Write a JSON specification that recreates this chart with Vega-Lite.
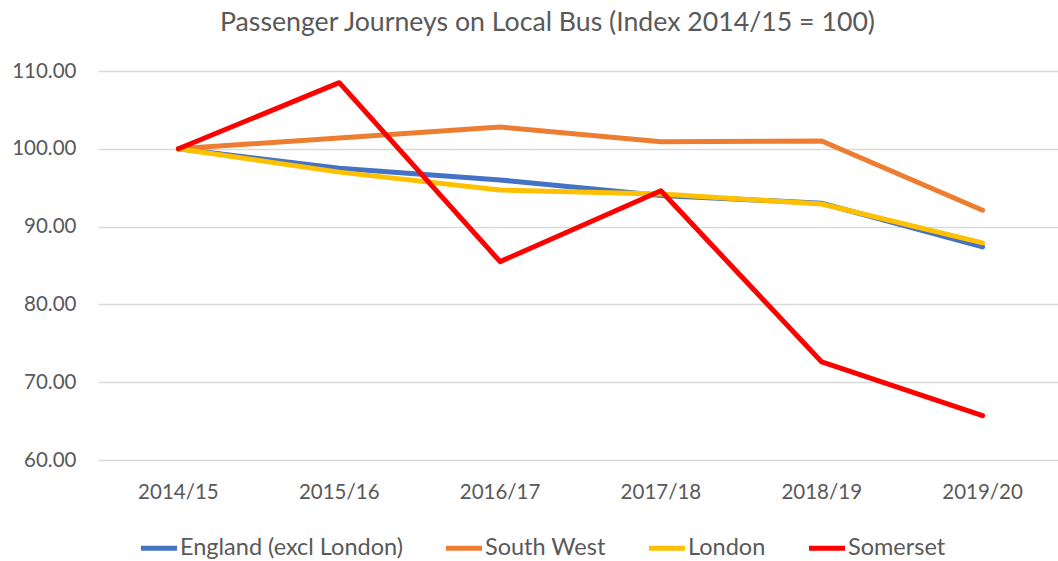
{
  "$schema": "https://vega.github.io/schema/vega-lite/v6.json",
  "autosize": "none",
  "width": 965,
  "height": 389,
  "padding": {"left": 98, "top": 71, "right": 0, "bottom": 101},
  "background": "white",
  "config": {
    "view": {"stroke": null},
    "font": "Lato",
    "axis": {"labelColor": "#595959", "labelFont": "Lato", "labelFontSize": 20.5},
    "legend": {"labelColor": "#595959", "labelFont": "Lato", "labelFontSize": 23.5}
  },
  "title": {
    "text": "Passenger Journeys on Local Bus (Index 2014/15 = 100)",
    "font": "Lato",
    "fontSize": 26.7,
    "fontWeight": "normal",
    "color": "#595959",
    "anchor": "middle",
    "dx": -33,
    "offset": 24
  },
  "data": {
    "values": [
      {"year": "2014/15", "series": "England (excl London)", "value": 100.0},
      {"year": "2015/16", "series": "England (excl London)", "value": 97.5},
      {"year": "2016/17", "series": "England (excl London)", "value": 96.0},
      {"year": "2017/18", "series": "England (excl London)", "value": 94.0},
      {"year": "2018/19", "series": "England (excl London)", "value": 93.0},
      {"year": "2019/20", "series": "England (excl London)", "value": 87.4},
      {"year": "2014/15", "series": "South West", "value": 100.0},
      {"year": "2015/16", "series": "South West", "value": 101.4},
      {"year": "2016/17", "series": "South West", "value": 102.8},
      {"year": "2017/18", "series": "South West", "value": 100.9},
      {"year": "2018/19", "series": "South West", "value": 101.0},
      {"year": "2019/20", "series": "South West", "value": 92.1},
      {"year": "2014/15", "series": "London", "value": 100.0},
      {"year": "2015/16", "series": "London", "value": 97.0},
      {"year": "2016/17", "series": "London", "value": 94.7},
      {"year": "2017/18", "series": "London", "value": 94.2},
      {"year": "2018/19", "series": "London", "value": 92.9},
      {"year": "2019/20", "series": "London", "value": 87.9},
      {"year": "2014/15", "series": "Somerset", "value": 100.0},
      {"year": "2015/16", "series": "Somerset", "value": 108.5},
      {"year": "2016/17", "series": "Somerset", "value": 85.5},
      {"year": "2017/18", "series": "Somerset", "value": 94.6},
      {"year": "2018/19", "series": "Somerset", "value": 72.6},
      {"year": "2019/20", "series": "Somerset", "value": 65.7}
    ]
  },
  "mark": {"type": "line", "strokeWidth": 5, "strokeCap": "round", "strokeJoin": "round"},
  "encoding": {
    "x": {
      "field": "year", "type": "ordinal",
      "scale": {"type": "band", "paddingInner": 0, "paddingOuter": 0},
      "axis": {"title": null, "labelAngle": 0, "ticks": false, "domain": false, "labelPadding": 22, "grid": false}
    },
    "y": {
      "field": "value", "type": "quantitative",
      "scale": {"domain": [60, 110], "nice": false, "zero": false},
      "axis": {"title": null, "format": ".2f", "values": [60, 70, 80, 90, 100, 110], "labelOverlap": false, "ticks": false, "domain": false, "labelPadding": 22, "gridColor": "#D9D9D9", "gridWidth": 1.5}
    },
    "color": {
      "field": "series", "type": "nominal",
      "scale": {
        "domain": ["England (excl London)", "South West", "London", "Somerset"],
        "range": ["#4472C4", "#ED7D31", "#FFC000", "#FF0000"]
      },
      "legend": {
        "title": null, "orient": "none", "direction": "horizontal",
        "legendX": 40, "legendY": 456,
        "symbolType": "stroke", "symbolStrokeWidth": 5, "symbolSize": 1300,
        "labelOffset": 0, "columnPadding": 32, "labelLimit": 400
      }
    },
    "order": {"field": "series"}
  }
}
